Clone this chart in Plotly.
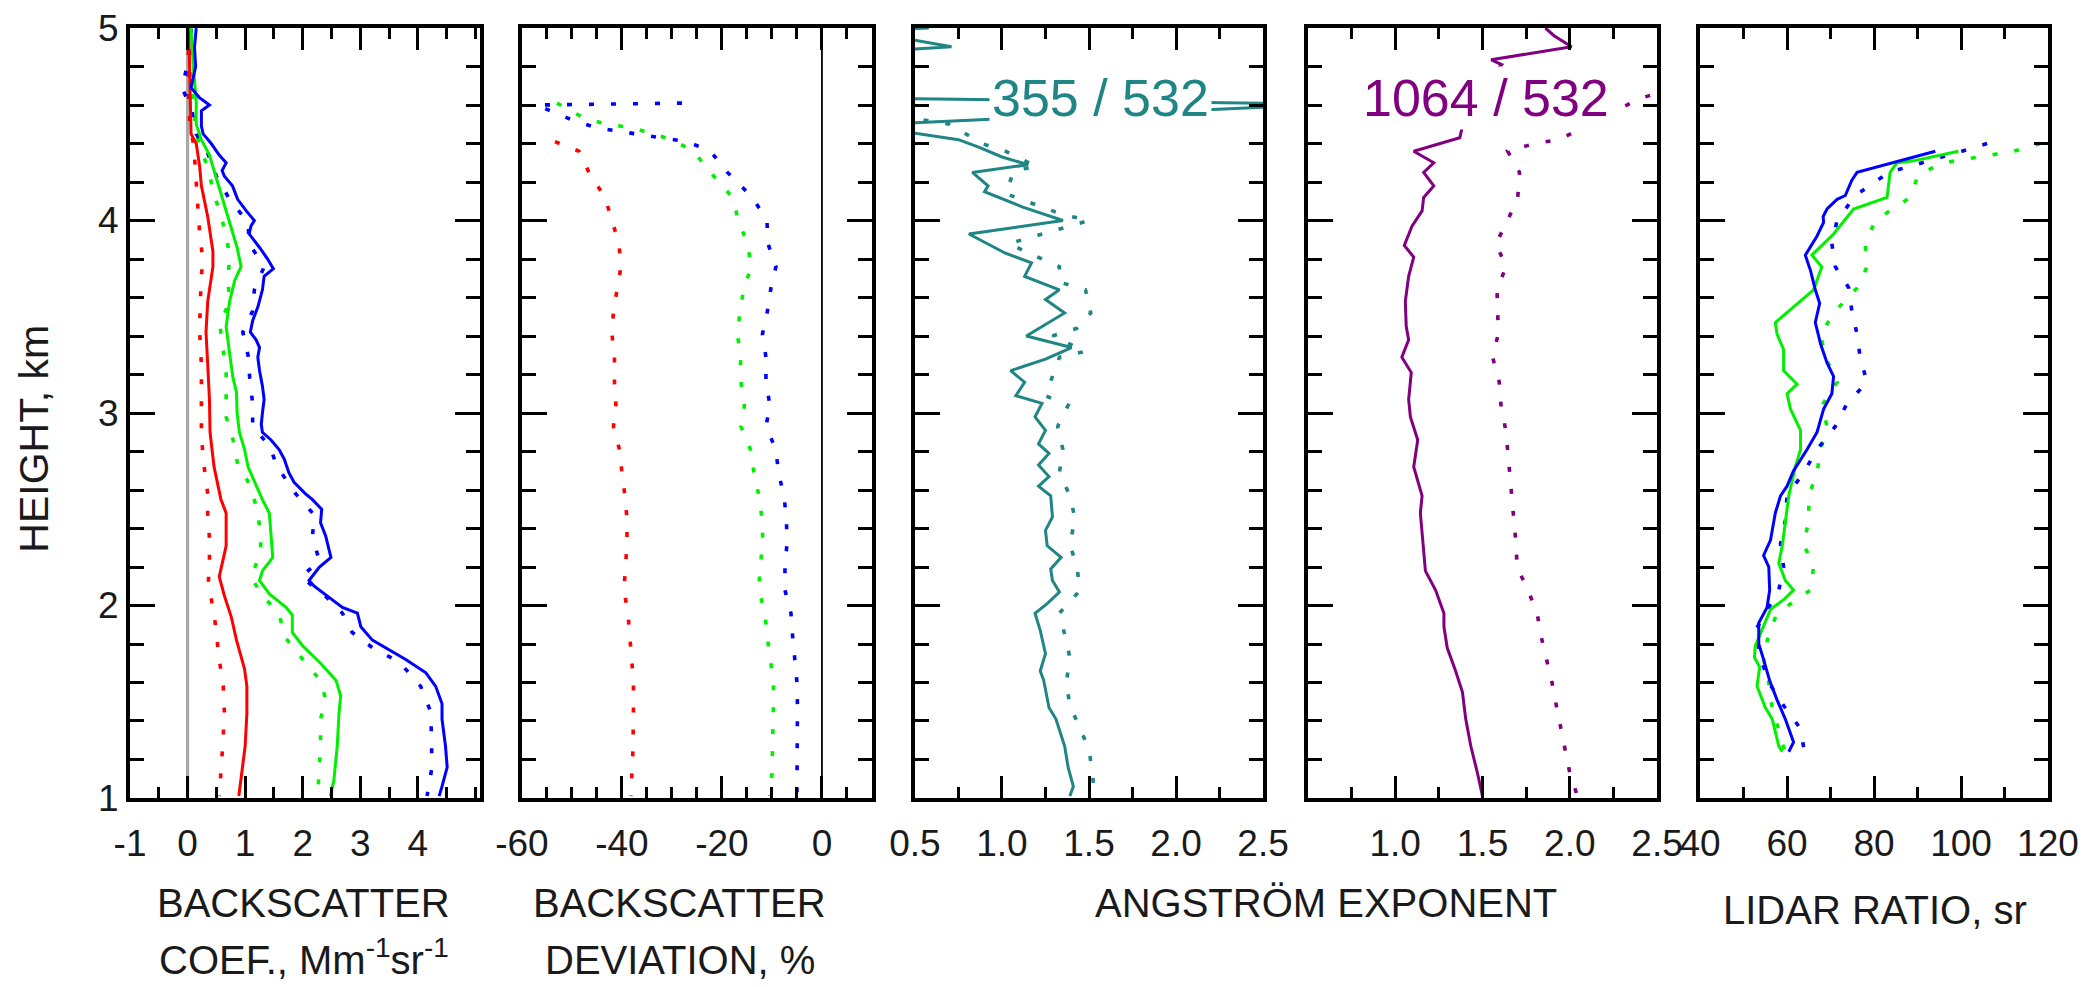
import plotly.graph_objects as go

# ---------------- Backscatter coefficient, Mm^-1 sr^-1 ----------------
bsc355_h = [5.00, 4.90, 4.80, 4.69, 4.64, 4.60, 4.57, 4.49, 4.45, 4.40, 4.34, 4.30, 4.26, 4.23, 4.18,
            4.11, 4.05, 4.00, 3.97, 3.93, 3.86, 3.80, 3.75, 3.71, 3.64, 3.55, 3.48, 3.42, 3.38, 3.34,
            3.29, 3.22, 3.14, 3.07, 3.00, 2.94, 2.90, 2.86, 2.81, 2.76, 2.69, 2.64, 2.58, 2.55, 2.50,
            2.43, 2.36, 2.25, 2.20, 2.13, 2.10, 2.05, 1.99, 1.96, 1.89, 1.82, 1.77, 1.72, 1.65, 1.58,
            1.49, 1.41, 1.27, 1.16, 1.06, 1.01]
bsc355 = [0.15, 0.12, 0.14, 0.06, 0.20, 0.38, 0.24, 0.24, 0.27, 0.41, 0.55, 0.67, 0.60, 0.64, 0.78,
          0.87, 1.02, 1.16, 1.10, 1.07, 1.25, 1.39, 1.49, 1.33, 1.30, 1.22, 1.13, 1.09, 1.19, 1.25,
          1.22, 1.25, 1.30, 1.33, 1.30, 1.28, 1.30, 1.45, 1.59, 1.68, 1.76, 1.85, 2.05, 2.17, 2.33,
          2.31, 2.40, 2.49, 2.29, 2.11, 2.20, 2.43, 2.69, 2.95, 3.01, 3.21, 3.50, 3.79, 4.14, 4.31,
          4.42, 4.42, 4.48, 4.51, 4.42, 4.37]

bsc355_alt_h = [5.00, 4.92, 4.81, 4.69, 4.58, 4.45, 4.35, 4.23, 4.11, 3.99, 3.88, 3.76, 3.64, 3.53,
                3.42, 3.30, 3.18, 3.05, 2.93, 2.83, 2.72, 2.58, 2.47, 2.36, 2.23, 2.15, 2.05, 1.96,
                1.86, 1.77, 1.71, 1.58, 1.45, 1.30, 1.15, 1.01]
bsc355_alt = [0.05, 0.10, 0.00, -0.10, 0.07, 0.15, 0.35, 0.50, 0.73, 1.05, 1.07, 1.33, 1.16, 1.13,
              0.96, 1.05, 1.08, 1.13, 1.13, 1.42, 1.56, 1.88, 2.20, 2.17, 2.29, 1.97, 2.39, 2.69,
              2.86, 3.26, 3.67, 4.05, 4.22, 4.24, 4.24, 4.16]

bsc532_h = [5.00, 4.80, 4.62, 4.50, 4.42, 4.34, 4.23, 4.11, 3.97, 3.86, 3.76, 3.69, 3.58, 3.45, 3.31,
            3.18, 3.11, 3.00, 2.90, 2.81, 2.72, 2.62, 2.55, 2.48, 2.38, 2.25, 2.18, 2.13, 2.06, 1.99,
            1.95, 1.86, 1.79, 1.70, 1.61, 1.53, 1.44, 1.27, 1.09, 1.01]
bsc532 = [0.06, 0.10, 0.15, 0.15, 0.24, 0.38, 0.49, 0.61, 0.76, 0.86, 0.93, 0.82, 0.73, 0.67, 0.73,
          0.79, 0.85, 0.86, 0.90, 0.99, 1.05, 1.19, 1.30, 1.42, 1.45, 1.48, 1.30, 1.25, 1.42, 1.71,
          1.82, 1.82, 2.00, 2.31, 2.58, 2.66, 2.63, 2.60, 2.54, 2.48]

bsc532_alt_h = [5.00, 4.86, 4.74, 4.62, 4.50, 4.38, 4.28, 4.16, 4.04, 3.93, 3.81, 3.69, 3.58, 3.46,
                3.34, 3.23, 3.11, 2.98, 2.86, 2.72, 2.65, 2.52, 2.38, 2.27, 2.15, 2.05, 1.96, 1.84,
                1.72, 1.61, 1.51, 1.41, 1.27, 1.13, 1.01]
bsc532_alt = [0.05, 0.05, 0.05, 0.10, 0.13, 0.21, 0.35, 0.44, 0.56, 0.67, 0.73, 0.70, 0.73, 0.56,
              0.61, 0.67, 0.67, 0.67, 0.79, 0.88, 1.04, 1.19, 1.27, 1.27, 1.10, 1.30, 1.59, 1.68,
              2.00, 2.31, 2.40, 2.31, 2.31, 2.29, 2.26]

bsc1064_h = [5.00, 4.45, 4.40, 4.28, 4.18, 4.02, 3.84, 3.76, 3.58, 3.42, 3.25, 3.07, 2.90, 2.72, 2.55,
             2.48, 2.31, 2.15, 2.05, 1.94, 1.82, 1.67, 1.58, 1.44, 1.27, 1.09, 1.01]
bsc1064 = [0.02, 0.06, 0.15, 0.21, 0.24, 0.35, 0.44, 0.44, 0.35, 0.32, 0.35, 0.38, 0.39, 0.46, 0.58,
           0.67, 0.67, 0.55, 0.64, 0.76, 0.85, 0.99, 1.03, 1.03, 1.00, 0.93, 0.89]

bsc1064_alt_h = [5.00, 4.60, 4.50, 4.40, 4.29, 4.17, 4.05, 3.93, 3.81, 3.69, 3.58, 3.42, 3.25, 3.07,
                 2.90, 2.76, 2.58, 2.47, 2.35, 2.24, 2.11, 1.96, 1.84, 1.72, 1.58, 1.44, 1.27, 1.13,
                 1.01]
bsc1064_alt = [0.01, 0.02, 0.04, 0.10, 0.13, 0.16, 0.18, 0.21, 0.26, 0.24, 0.22, 0.21, 0.24, 0.24,
               0.24, 0.27, 0.35, 0.35, 0.38, 0.38, 0.36, 0.46, 0.50, 0.55, 0.62, 0.64, 0.61, 0.58,
               0.55]

# ---------------- Backscatter deviation, % ----------------
dev355_h = [4.61, 4.60, 4.52, 4.48, 4.41, 4.36, 4.25, 4.12, 4.00, 3.88, 3.76, 3.65, 3.53, 3.41, 3.29,
            3.16, 3.04, 2.93, 2.81, 2.69, 2.57, 2.45, 2.32, 2.20, 2.08, 1.96, 1.85, 1.73, 1.60, 1.48,
            1.36, 1.25, 1.13, 1.01]
dev355 = [-28.0, -57.0, -49.8, -44.8, -27.0, -22.3, -18.9, -13.9, -11.0, -10.8, -9.2, -10.2, -10.9,
          -11.9, -11.2, -11.2, -10.4, -11.2, -9.2, -8.7, -7.6, -7.1, -7.0, -7.4, -7.4, -6.2, -5.9,
          -5.4, -5.0, -4.9, -4.9, -4.9, -5.0, -5.0]

dev532_h = [4.61, 4.53, 4.50, 4.48, 4.42, 4.36, 4.25, 4.12, 4.00, 3.88, 3.76, 3.65, 3.53, 3.41, 3.29,
            3.16, 3.04, 2.93, 2.81, 2.69, 2.57, 2.45, 2.32, 2.20, 2.08, 1.96, 1.85, 1.73, 1.60, 1.48,
            1.36, 1.25, 1.13, 1.01]
dev532 = [-53.0, -47.4, -42.8, -37.7, -30.0, -25.7, -22.3, -17.9, -16.7, -14.9, -14.1, -15.6, -16.4,
          -16.9, -16.3, -16.2, -15.5, -16.2, -14.3, -13.6, -12.6, -12.0, -11.8, -12.4, -12.6, -11.4,
          -11.0, -10.4, -9.7, -9.7, -9.8, -9.8, -10.0, -10.4]

dev1064_h = [4.41, 4.36, 4.25, 4.12, 4.00, 3.88, 3.76, 3.65, 3.53, 3.41, 3.29, 3.16, 3.04, 2.93, 2.81,
             2.69, 2.57, 2.45, 2.32, 2.20, 2.08, 1.96, 1.85, 1.73, 1.60, 1.48, 1.36, 1.25, 1.13, 1.01]
dev1064 = [-53.4, -48.6, -46.6, -43.4, -42.0, -40.6, -40.2, -41.0, -41.7, -42.0, -41.5, -41.5, -41.2,
           -41.7, -40.5, -40.0, -39.4, -39.0, -39.0, -39.3, -39.6, -38.8, -38.5, -38.0, -37.7, -37.7,
           -37.7, -37.8, -38.0, -38.2]

# ---------------- Angstrom exponent 355/532 ----------------
ae355_h = [5.00, 4.99, 4.96, 4.945, 4.903, 4.89, 4.88, 4.635, 4.605, 4.50, 4.46, 4.42, 4.38, 4.33,
           4.29, 4.25, 4.18, 4.15, 4.07, 4.00, 3.93, 3.83, 3.78, 3.71, 3.64, 3.59, 3.52, 3.40, 3.34,
           3.28, 3.22, 3.16, 3.09, 3.05, 2.98, 2.91, 2.84, 2.79, 2.73, 2.67, 2.62, 2.57, 2.46, 2.39,
           2.31, 2.25, 2.19, 2.13, 2.07, 2.01, 1.96, 1.87, 1.75, 1.66, 1.61, 1.47, 1.41, 1.27, 1.16,
           1.06, 1.01]
ae355 = [0.58, 0.30, 0.30, 0.45, 0.71, 0.45, 0.30, 0.30, 2.90, 0.30, 0.45, 0.75, 0.87, 1.00, 1.15,
         0.83, 0.92, 0.90, 1.12, 1.35, 0.81, 1.02, 1.17, 1.13, 1.33, 1.25, 1.36, 1.14, 1.40, 1.25,
         1.05, 1.13, 1.08, 1.23, 1.19, 1.25, 1.21, 1.27, 1.21, 1.27, 1.21, 1.28, 1.29, 1.25, 1.26,
         1.34, 1.28, 1.29, 1.33, 1.26, 1.19, 1.22, 1.25, 1.22, 1.24, 1.27, 1.31, 1.36, 1.38, 1.41,
         1.39]

ae355_alt_h = [4.56, 4.50, 4.40, 4.36, 4.28, 4.26, 4.14, 4.07, 4.03, 4.00, 3.88, 3.82, 3.76, 3.68,
               3.64, 3.52, 3.44, 3.40, 3.32, 3.29, 3.16, 3.09, 3.04, 2.93, 2.81, 2.69, 2.57, 2.45,
               2.32, 2.20, 2.08, 1.96, 1.85, 1.73, 1.60, 1.48, 1.36, 1.25, 1.13, 1.02]
ae355_alt = [0.30, 0.70, 0.885, 1.02, 1.20, 1.07, 1.02, 1.23, 1.35, 1.50, 1.04, 1.18, 1.33, 1.33,
             1.48, 1.51, 1.43, 1.29, 1.48, 1.33, 1.28, 1.25, 1.38, 1.32, 1.35, 1.33, 1.39, 1.42,
             1.39, 1.43, 1.45, 1.33, 1.36, 1.39, 1.37, 1.39, 1.45, 1.50, 1.52, 1.53]

# ---------------- Angstrom exponent 1064/532 ----------------
ae1064_h = [5.00, 4.96, 4.903, 4.835, 4.81, 4.70, 4.55, 4.48, 4.43, 4.36, 4.30, 4.25, 4.18, 4.12,
            4.05, 3.97, 3.87, 3.81, 3.71, 3.58, 3.45, 3.38, 3.29, 3.21, 3.07, 2.98, 2.86, 2.72,
            2.57, 2.48, 2.31, 2.18, 2.08, 1.96, 1.89, 1.78, 1.66, 1.55, 1.41, 1.27, 1.13, 1.01]
ae1064 = [1.86, 1.91, 2.01, 1.55, 1.61, 1.50, 1.40, 1.385, 1.37, 1.106, 1.221, 1.163, 1.221, 1.163,
          1.154, 1.096, 1.052, 1.106, 1.077, 1.058, 1.063, 1.077, 1.038, 1.092, 1.077, 1.087, 1.129,
          1.106, 1.154, 1.144, 1.160, 1.173, 1.231, 1.279, 1.279, 1.298, 1.346, 1.385, 1.404,
          1.433, 1.471, 1.50]

ae1064_alt_h = [4.72, 4.63, 4.48, 4.42, 4.40, 4.36, 4.25, 4.12, 4.00, 3.88, 3.76, 3.64, 3.53, 3.41,
                3.29, 3.16, 3.04, 2.93, 2.81, 2.69, 2.57, 2.45, 2.32, 2.20, 2.08, 1.96, 1.85, 1.73,
                1.60, 1.48, 1.36, 1.25, 1.13, 1.02]
ae1064_alt = [2.70, 2.39, 2.077, 1.933, 1.798, 1.644, 1.712, 1.702, 1.644, 1.577, 1.635, 1.583,
              1.587, 1.590, 1.558, 1.596, 1.606, 1.629, 1.644, 1.654, 1.667, 1.679, 1.692, 1.698,
              1.760, 1.813, 1.833, 1.865, 1.898, 1.923, 1.948, 1.971, 2.000, 2.040]

# ---------------- Lidar ratio, sr ----------------
lr355_h = [4.36, 4.33, 4.30, 4.25, 4.21, 4.13, 4.11, 4.06, 4.02, 3.99, 3.92, 3.82, 3.74, 3.64, 3.57,
           3.47, 3.36, 3.26, 3.19, 3.10, 3.02, 2.90, 2.81, 2.70, 2.62, 2.57, 2.48, 2.34, 2.26, 2.20,
           2.08, 1.99, 1.91, 1.80, 1.72, 1.61, 1.51, 1.41, 1.29, 1.24]
lr355 = [94.1, 89.1, 84.5, 76.1, 74.9, 73.4, 71.5, 69.2, 68.3, 68.4, 66.9, 64.2, 65.4, 66.5, 67.5,
         66.5, 67.7, 69.2, 70.7, 70.3, 68.4, 66.9, 64.6, 61.5, 60.0, 58.5, 57.3, 56.2, 54.6, 55.8,
         56.0, 55.4, 53.5, 53.5, 54.6, 56.0, 57.7, 59.6, 61.5, 60.4]

lr355_alt_h = [4.40, 4.36, 4.25, 4.13, 4.00, 3.88, 3.76, 3.65, 3.53, 3.41, 3.29, 3.16, 3.05, 2.93,
               2.81, 2.69, 2.57, 2.44, 2.32, 2.20, 2.08, 1.96, 1.87, 1.73, 1.60, 1.48, 1.36, 1.24]
lr355_alt = [106.0, 100.2, 83.4, 75.7, 71.5, 70.3, 71.1, 74.2, 74.9, 76.1, 76.8, 78.4, 73.8, 71.1,
             66.9, 63.8, 60.0, 59.6, 58.5, 59.2, 58.1, 55.0, 52.7, 53.9, 55.8, 59.2, 63.1, 64.0]

lr532_h = [4.36, 4.31, 4.30, 4.25, 4.12, 4.06, 3.93, 3.82, 3.76, 3.64, 3.47, 3.41, 3.33, 3.22, 3.15,
           3.10, 3.02, 2.91, 2.81, 2.72, 2.57, 2.44, 2.31, 2.22, 2.13, 2.08, 2.03, 1.98, 1.89, 1.79,
           1.73, 1.68, 1.58, 1.47, 1.41, 1.27, 1.24]
lr532 = [99.4, 89.1, 85.3, 83.7, 83.0, 75.3, 70.7, 65.7, 68.0, 66.1, 57.3, 57.7, 59.2, 59.2, 62.3,
         60.0, 60.8, 63.1, 63.1, 61.9, 60.4, 59.6, 58.9, 58.1, 59.6, 61.5, 59.2, 56.2, 54.6, 52.7,
         52.5, 53.7, 53.1, 55.0, 56.6, 58.1, 58.9]

lr532_alt_h = [4.40, 4.36, 4.30, 4.24, 4.12, 4.00, 3.88, 3.76, 3.65, 3.53, 3.41, 3.29, 3.16, 3.04,
               2.93, 2.81, 2.69, 2.57, 2.44, 2.32, 2.20, 2.08, 1.96, 1.85, 1.73, 1.60, 1.48, 1.36,
               1.24]
lr532_alt = [118.2, 112.1, 96.0, 90.2, 88.3, 80.3, 78.0, 78.4, 76.1, 71.1, 67.7, 68.8, 71.5, 68.0,
             69.2, 67.7, 66.9, 65.0, 65.0, 63.8, 66.1, 65.4, 57.7, 55.8, 54.5, 55.8, 56.5, 58.0,
             59.5]

# ---------------- Axis ticks ----------------
height_ticks = [1, 2, 3, 4, 5]
bsc_ticks = [-1, 0, 1, 2, 3, 4]
dev_ticks = [-60, -40, -20, 0]
ae355_ticks = [0.5, 1.0, 1.5, 2.0, 2.5]
ae355_ticktext = ["0.5", "1.0", "1.5", "2.0", "2.5"]
ae1064_ticks = [1.0, 1.5, 2.0, 2.5]
ae1064_ticktext = ["1.0", "1.5", "2.0", "2.5"]
lr_ticks = [40, 60, 80, 100, 120]

BLUE = "#0000FF"
GREEN = "#00F000"
RED = "#FF0000"
TEAL = "#1F8585"
PURPLE = "#800080"
DOT = "5px,17px"
FONT = "Liberation Sans, Arial, sans-serif"
TXT = "#1a1a1a"

fig = go.Figure()


def profile(x, h, color, dotted, panel, width=None):
    fig.add_trace(go.Scatter(
        x=x, y=h, mode="lines",
        xaxis="x" if panel == 1 else f"x{panel}",
        yaxis="y" if panel == 1 else f"y{panel}",
        line=dict(color=color, width=width or (3.6 if dotted else 3.0),
                  dash=DOT if dotted else "solid"),
        showlegend=False, hoverinfo="skip"))


# reference lines at zero
profile([0, 0], [1, 5], "#A8A8A8", False, 1, width=3.2)
profile([0, 0], [1, 5], "#000000", False, 2, width=1.8)

profile(bsc1064_alt, bsc1064_alt_h, RED, True, 1)
profile(bsc532_alt, bsc532_alt_h, GREEN, True, 1)
profile(bsc355_alt, bsc355_alt_h, BLUE, True, 1)
profile(bsc1064, bsc1064_h, RED, False, 1)
profile(bsc532, bsc532_h, GREEN, False, 1)
profile(bsc355, bsc355_h, BLUE, False, 1)

profile(dev1064, dev1064_h, RED, True, 2)
profile(dev532, dev532_h, GREEN, True, 2)
profile(dev355, dev355_h, BLUE, True, 2)

profile(ae355_alt, ae355_alt_h, TEAL, True, 3)
profile(ae355, ae355_h, TEAL, False, 3)

profile(ae1064_alt, ae1064_alt_h, PURPLE, True, 4)
profile(ae1064, ae1064_h, PURPLE, False, 4)

profile(lr532_alt, lr532_alt_h, GREEN, True, 5)
profile(lr355_alt, lr355_alt_h, BLUE, True, 5)
profile(lr532, lr532_h, GREEN, False, 5)
profile(lr355, lr355_h, BLUE, False, 5)

Y_DOMAIN = [0.1915, 0.9716]
X_DOMAINS = [[0.0623, 0.2300], [0.2501, 0.4178], [0.4384, 0.6052],
             [0.6267, 0.7940], [0.8146, 0.9813]]


def frame_axis(**kw):
    base = dict(showline=True, linewidth=4, linecolor="black", mirror="allticks",
                showgrid=False, zeroline=False, ticks="inside", tickcolor="black",
                tickwidth=3.4, tickfont=dict(family=FONT, size=37, color=TXT),
                fixedrange=True, automargin=False)
    base.update(kw)
    return base


x_specs = [
    dict(range=[-1, 5.08], tickvals=bsc_ticks, ticktext=[str(v) for v in bsc_ticks],
         minor_dtick=0.5, minor_tick0=-1),
    dict(range=[-60, 10], tickvals=dev_ticks, ticktext=[str(v) for v in dev_ticks],
         minor_dtick=5, minor_tick0=-60),
    dict(range=[0.5, 2.5], tickvals=ae355_ticks, ticktext=ae355_ticktext,
         minor_dtick=0.25, minor_tick0=0.5),
    dict(range=[0.5, 2.5], tickvals=ae1064_ticks, ticktext=ae1064_ticktext,
         minor_dtick=0.25, minor_tick0=0.5),
    dict(range=[40, 120], tickvals=lr_ticks, ticktext=[str(v) for v in lr_ticks],
         minor_dtick=10, minor_tick0=40),
]

layout_axes = {}
for i, spec in enumerate(x_specs, start=1):
    xname = "xaxis" if i == 1 else f"xaxis{i}"
    yname = "yaxis" if i == 1 else f"yaxis{i}"
    anchor_y = "y" if i == 1 else f"y{i}"
    anchor_x = "x" if i == 1 else f"x{i}"
    layout_axes[xname] = frame_axis(
        domain=X_DOMAINS[i - 1], anchor=anchor_y, range=spec["range"],
        tickmode="array", tickvals=spec["tickvals"], ticktext=spec["ticktext"],
        ticklen=22, ticklabelstandoff=10,
        minor=dict(ticks="inside", ticklen=11, tickwidth=3.4, tickcolor="black",
                   dtick=spec["minor_dtick"], tick0=spec["minor_tick0"], showgrid=False))
    layout_axes[yname] = frame_axis(
        domain=Y_DOMAIN, anchor=anchor_x, range=[1, 5],
        tickmode="array", tickvals=height_ticks, ticktext=[str(v) for v in height_ticks],
        showticklabels=(i == 1), ticklen=25, ticklabelstandoff=0,
        minor=dict(ticks="inside", ticklen=14, tickwidth=3.4, tickcolor="black",
                   dtick=0.2, tick0=1, showgrid=False))

title_font = dict(family=FONT, size=40, color=TXT)
annotations = [
    dict(text="BACKSCATTER", x=0.1452, y=0.0851),
    dict(text="COEF., Mm<sup>-1</sup>sr<sup>-1</sup>", x=0.1457, y=0.0300),
    dict(text="BACKSCATTER", x=0.3258, y=0.0851),
    dict(text="DEVIATION, %", x=0.3258, y=0.0275),
    dict(text="ANGSTRÖM EXPONENT", x=0.6354, y=0.0851),
    dict(text="LIDAR RATIO, sr", x=0.8984, y=0.0780),
]
annotations = [dict(a, xref="paper", yref="paper", showarrow=False, xanchor="center",
                    yanchor="middle", font=title_font) for a in annotations]
annotations.append(dict(text="HEIGHT, km", x=0.0165, y=0.556, xref="paper", yref="paper",
                        textangle=-90, showarrow=False, xanchor="center", yanchor="middle",
                        font=dict(family=FONT, size=41, color=TXT)))
annotations.append(dict(text="355 / 532", x=1.565, y=4.636, xref="x3", yref="y3",
                        showarrow=False, xanchor="center", yanchor="middle",
                        bgcolor="white", borderpad=2,
                        font=dict(family=FONT, size=52, color=TEAL)))
annotations.append(dict(text="1064 / 532", x=1.52, y=4.636, xref="x4", yref="y4",
                        showarrow=False, xanchor="center", yanchor="middle",
                        bgcolor="white", borderpad=2,
                        font=dict(family=FONT, size=52, color=PURPLE)))

fig.update_layout(
    width=2087, height=987, autosize=False,
    margin=dict(l=0, r=0, t=0, b=0, pad=0, autoexpand=False),
    paper_bgcolor="white", plot_bgcolor="white",
    showlegend=False,
    annotations=annotations,
    **layout_axes,
)

fig.write_html("out.html")
